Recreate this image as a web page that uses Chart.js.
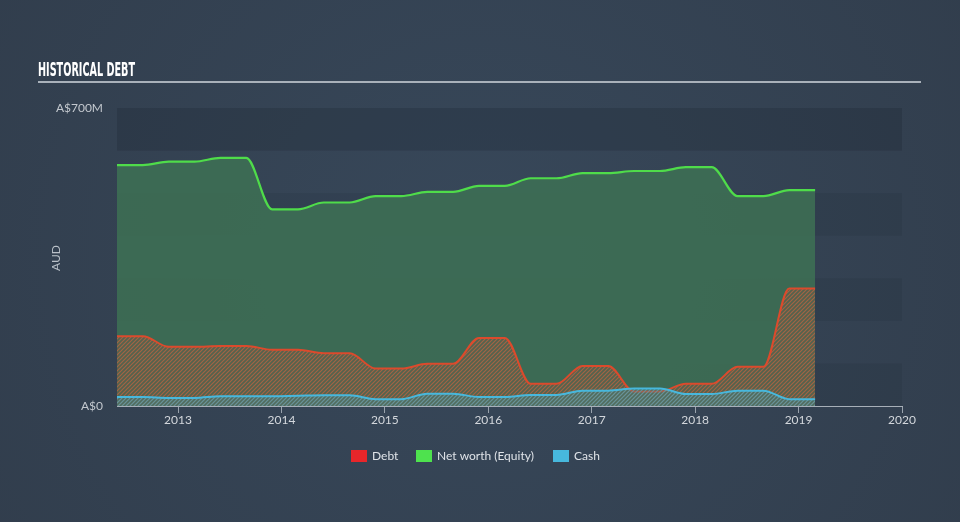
<!DOCTYPE html>
<html><head><meta charset="utf-8">
<script src="https://cdn.jsdelivr.net/npm/chart.js@4/dist/chart.umd.min.js"></script>
<style>html,body{margin:0;padding:0;background:#344050;}canvas{display:block}</style>
</head><body>
<canvas id="c" width="960" height="522"></canvas>
<script>
// ---- data (values in A$ millions, time in fractional years) ----
const periods = [2012.41, 2012.66, 2012.91, 2013.16, 2013.41, 2013.66, 2013.91, 2014.16, 2014.41, 2014.66,
                 2014.91, 2015.16, 2015.41, 2015.66, 2015.91, 2016.16, 2016.41, 2016.66, 2016.91, 2017.16,
                 2017.41, 2017.66, 2017.91, 2018.16, 2018.41, 2018.66, 2018.91, 2019.16];
const equity = [566, 566, 574, 574, 583, 583, 462, 462, 478, 478, 493, 493, 503, 503, 517, 517, 535, 535, 547, 547,
                552, 552, 561, 561, 493, 493, 507, 507];
const debt   = [164, 164, 139, 139, 141, 141, 132, 132, 124, 124, 88, 88, 99, 99, 160, 160, 52, 52, 94, 94,
                34, 34, 52, 52, 92, 92, 276, 276];
const cash   = [21, 21, 19, 19, 23, 23, 23, 24, 25, 25, 16, 16, 29, 29, 21, 21, 26, 26, 36, 36,
                41, 41, 28, 28, 36, 36, 16, 16];
const xTicks = [2013, 2014, 2015, 2016, 2017, 2018, 2019, 2020];
const yTicks = [0, 700];
const yTickLabels = ['A$0', 'A$700M'];
const legendItems = [
  {label: 'Debt', color: '#e8262a'},
  {label: 'Net worth (Equity)', color: '#4ee24e'},
  {label: 'Cash', color: '#47b8dd'}
];

function pts(vals){ return periods.map((p,i)=>({x:p, y:vals[i]})); }

function hatch(bg, fg){
  const c = document.createElement('canvas'); c.width = 4; c.height = 4;
  const g = c.getContext('2d');
  g.fillStyle = bg; g.fillRect(0,0,4,4);
  g.strokeStyle = fg; g.lineWidth = 1.2;
  g.beginPath();
  g.moveTo(-1,5); g.lineTo(5,-1);
  g.moveTo(-3,3); g.lineTo(3,-3);
  g.moveTo(1,7); g.lineTo(7,1);
  g.stroke();
  return g.createPattern(c, 'repeat');
}

const bgPlugin = {
  id: 'bg',
  beforeDraw(chart){
    const ctx = chart.ctx, a = chart.chartArea;
    ctx.save();
    const grd = ctx.createRadialGradient(480, 260, 50, 480, 260, 600);
    grd.addColorStop(0, '#374759');
    grd.addColorStop(1, '#313d4c');
    ctx.fillStyle = grd;
    ctx.fillRect(0, 0, chart.width, chart.height);
    const ys = chart.scales.y;
    ctx.fillStyle = 'rgba(20,28,40,0.10)';
    for (let v = 0; v < 700; v += 200) {
      const top = ys.getPixelForValue(v + 100), bot = ys.getPixelForValue(v);
      ctx.fillRect(a.left, top, a.right - a.left, bot - top);
    }
    ctx.fillRect(a.left, ys.getPixelForValue(700), a.right - a.left, ys.getPixelForValue(600) - ys.getPixelForValue(700));
    ctx.restore();
  },
  afterDraw(chart){
    const ctx = chart.ctx;
    ctx.save();
    // title
    ctx.fillStyle = '#ffffff';
    ctx.font = 'bold 20px "Liberation Sans Narrow", "DejaVu Sans Condensed", sans-serif';
    ctx.textBaseline = 'alphabetic';
    ctx.textAlign = 'left';
    ctx.fillText('HISTORICAL DEBT', 38, 76, 97);
    ctx.strokeStyle = '#a9b1ba';
    ctx.lineWidth = 2;
    ctx.beginPath(); ctx.moveTo(38, 82); ctx.lineTo(921, 82); ctx.stroke();
    // axis title
    ctx.fillStyle = '#b9c0c8';
    ctx.font = '12px Lato, "Open Sans", sans-serif';
    ctx.translate(56, 258); ctx.rotate(-Math.PI/2);
    ctx.textAlign = 'center'; ctx.textBaseline = 'middle';
    ctx.fillText('AUD', 0, 0);
    ctx.setTransform(1,0,0,1,0,0);
    // legend
    const xs = [351, 416, 553];
    ctx.font = '12px Lato, "Open Sans", sans-serif';
    ctx.textAlign = 'left'; ctx.textBaseline = 'middle';
    legendItems.forEach((it, i) => {
      ctx.fillStyle = it.color;
      ctx.fillRect(xs[i], 450, 16, 12);
      ctx.fillStyle = '#dfe3e8';
      ctx.fillText(it.label, xs[i] + 21, 456.5);
    });
    ctx.restore();
  }
};

const ctx = document.getElementById('c').getContext('2d');
new Chart(ctx, {
  type: 'line',
  data: {
    datasets: [
      { label: 'Debt', data: pts(debt), borderColor: '#dc4a2c', borderWidth: 2,
        backgroundColor: hatch('rgba(110,90,70,0.45)', 'rgba(190,100,65,0.75)'),
        fill: 'origin', pointRadius: 0, cubicInterpolationMode: 'monotone', order: 1 },
      { label: 'Net worth (Equity)', data: pts(equity), borderColor: '#4fdc4a', borderWidth: 2.2,
        backgroundColor: 'rgba(62,112,84,0.88)',
        fill: 'origin', pointRadius: 0, cubicInterpolationMode: 'monotone', order: 2 },
      { label: 'Cash', data: pts(cash), borderColor: '#47b8dd', borderWidth: 2,
        backgroundColor: hatch('rgba(70,130,130,0.35)', 'rgba(90,165,185,0.7)'),
        fill: 'origin', pointRadius: 0, cubicInterpolationMode: 'monotone', order: 0 }
    ]
  },
  options: {
    responsive: false,
    animation: false,
    devicePixelRatio: 1,
    layout: { padding: { left: 0, right: 58, top: 108, bottom: 86 } },
    plugins: { legend: { display: false }, tooltip: { enabled: false } },
    scales: {
      x: {
        type: 'linear', min: periods[0], max: 2020,
        afterBuildTicks(s){ s.ticks = xTicks.map(v => ({value: v})); },
        afterFit(s){ s.height = 30; },
        ticks: { color: '#d3d7dc', font: { family: 'Lato, "Open Sans", sans-serif', size: 12 }, padding: 0,
                 callback: v => String(v), maxRotation: 0, autoSkip: false },
        grid: { display: true, drawOnChartArea: false, drawTicks: true, tickLength: 7, color: '#9aa3ad', lineWidth: 1 },
        border: { display: true, color: '#a7afb8', width: 1 }
      },
      y: {
        type: 'linear', min: 0, max: 700,
        afterBuildTicks(s){ s.ticks = yTicks.map(v => ({value: v})); },
        afterFit(s){ s.width = 117; },
        ticks: { color: '#c3c8ce', font: { family: 'Lato, "Open Sans", sans-serif', size: 12 }, padding: 14,
                 callback: (v) => yTickLabels[yTicks.indexOf(v)] },
        grid: { display: false, drawTicks: false, tickLength: 0 },
        border: { display: false }
      }
    }
  },
  plugins: [bgPlugin]
});
</script>
</body></html>
